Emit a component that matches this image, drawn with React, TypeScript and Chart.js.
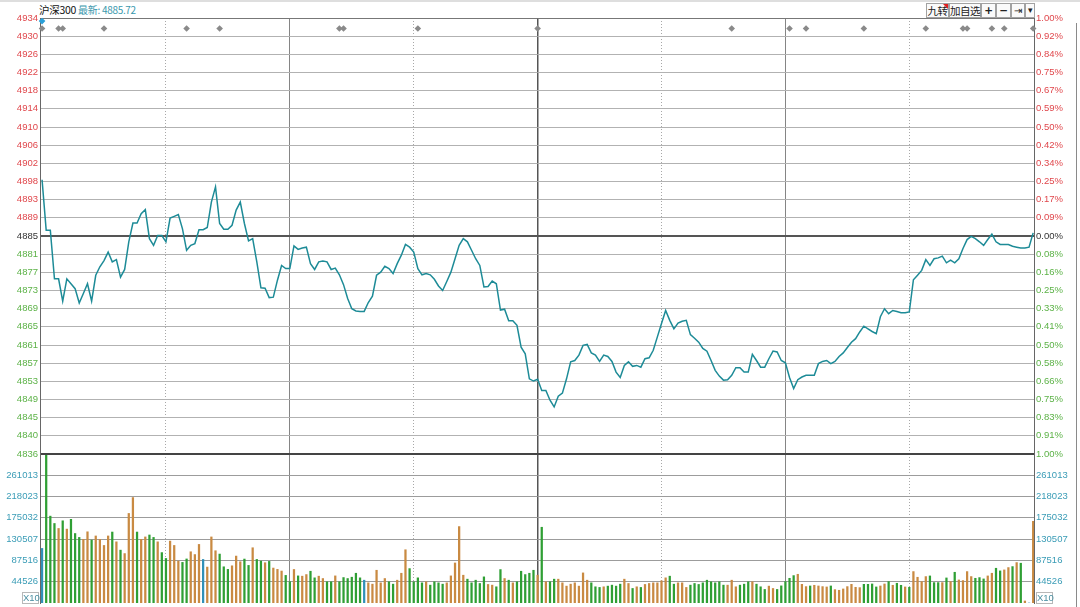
import { useEffect, useRef } from "react";
import { Chart, registerables } from "chart.js";

Chart.register(...registerables);

// previous close = the 0.00% line
const prevClose = 4885.0;
const lastPrice = "4885.72";

// left axis labels, top to bottom
const priceLabels = [
  "4934", "4930", "4926", "4922", "4918", "4914", "4910", "4906", "4902", "4898", "4893", "4889",
  "4885",
  "4881", "4877", "4873", "4869", "4865", "4861", "4857", "4853", "4849", "4845", "4840", "4836",
];
// right axis labels, top to bottom
const pctLabels = [
  "1.00%", "0.92%", "0.84%", "0.75%", "0.67%", "0.59%", "0.50%", "0.42%", "0.34%", "0.25%", "0.17%", "0.09%",
  "0.00%",
  "0.08%", "0.16%", "0.25%", "0.33%", "0.41%", "0.50%", "0.58%", "0.66%", "0.75%", "0.83%", "0.91%", "1.00%",
];
const volumeTicks = [44526, 87516, 130507, 175032, 218023, 261013];

// one value per minute, 241 minutes
const prices = [
  4897.6, 4886.3, 4886.3, 4875.4, 4875.4, 4870.4, 4875.4, 4874.3, 4873.2, 4870.0,
  4872.1, 4874.3, 4870.4, 4876.2, 4878.1, 4879.5, 4881.4, 4879.2, 4879.7, 4875.8,
  4877.5, 4883.7, 4887.9, 4887.9, 4890.0, 4890.9, 4884.4, 4882.9, 4885.1, 4885.1,
  4883.7, 4889.0, 4889.4, 4889.8, 4886.6, 4881.8, 4882.9, 4883.3, 4886.4, 4886.4,
  4886.9, 4892.6, 4896.0, 4887.8, 4886.5, 4886.5, 4887.4, 4890.8, 4892.6, 4887.8,
  4883.9, 4884.4, 4879.2, 4873.4, 4873.3, 4871.2, 4871.3, 4875.1, 4878.4, 4877.7,
  4877.7, 4882.8, 4882.0, 4882.3, 4882.5, 4878.8, 4877.5, 4879.2, 4879.4, 4879.2,
  4877.5, 4877.8, 4876.3, 4874.1, 4871.0, 4868.7, 4868.2, 4868.1, 4868.1, 4870.1,
  4871.5, 4876.2, 4876.9, 4878.2, 4877.7, 4876.6, 4878.8, 4880.7, 4883.1, 4882.5,
  4881.4, 4877.7, 4876.3, 4876.6, 4876.3, 4875.3, 4873.8, 4872.8, 4874.8, 4876.9,
  4879.9, 4882.9, 4884.4, 4883.7, 4881.8, 4879.9, 4878.4, 4873.6, 4873.7, 4874.9,
  4874.3, 4868.4, 4868.6, 4866.0, 4866.0, 4865.0, 4860.1, 4858.6, 4853.0, 4852.5,
  4852.9, 4850.4, 4850.4, 4848.2, 4846.7, 4849.1, 4849.8, 4853.0, 4856.8, 4857.1,
  4858.3, 4860.5, 4860.7, 4858.8, 4858.3, 4856.9, 4858.3, 4858.0, 4856.9, 4854.5,
  4853.3, 4856.0, 4856.8, 4855.8, 4856.0, 4855.6, 4857.5, 4857.7, 4859.4, 4862.4,
  4865.4, 4868.3, 4866.1, 4864.2, 4865.5, 4865.9, 4866.1, 4862.9, 4862.1, 4861.2,
  4859.8, 4859.2, 4857.1, 4854.9, 4853.6, 4852.7, 4852.8, 4853.8, 4855.5, 4855.5,
  4854.5, 4854.5, 4858.5, 4857.1, 4855.6, 4855.6, 4857.5, 4859.2, 4859.0, 4857.1,
  4856.6, 4853.3, 4850.8, 4852.8, 4853.4, 4853.8, 4853.8, 4853.8, 4856.4, 4856.9,
  4857.1, 4856.4, 4856.9, 4858.0, 4858.8, 4860.0, 4861.2, 4862.0, 4863.5, 4864.8,
  4864.2, 4863.6, 4863.1, 4866.9, 4868.7, 4867.6, 4868.3, 4868.1, 4867.8, 4867.8,
  4868.0, 4875.2, 4876.2, 4877.3, 4879.7, 4878.4, 4879.9, 4880.1, 4880.5, 4879.0,
  4879.6, 4879.0, 4879.9, 4882.2, 4884.2, 4884.9, 4884.4, 4883.7, 4882.9, 4884.2,
  4885.4, 4883.7, 4883.1, 4883.1, 4883.1, 4882.7, 4882.5, 4882.3, 4882.3, 4882.5,
  4885.7,
];

const volumes = [
  111500, 320000, 177500, 162500, 152300, 168000, 151000, 171000, 142000, 134000,
  130000, 145500, 128500, 137000, 130000, 117600, 137000, 145000, 125000, 108000,
  101000, 183000, 215500, 145000, 130000, 135000, 139000, 134000, 125000, 103000,
  91000, 126500, 117600, 85700, 83000, 90000, 104700, 99000, 119700, 89000,
  73400, 135000, 106800, 100000, 74000, 68700, 76000, 95900, 84300, 89800,
  76800, 112900, 89000, 85700, 82300, 85000, 71400, 68700, 65300, 56400,
  43500, 68500, 55400, 54800, 58100, 64900, 51400, 54800, 50000, 43300,
  43300, 55400, 43300, 52000, 50000, 52700, 60800, 51400, 46600, 41200,
  38500, 66900, 41200, 50000, 43300, 38500, 46600, 60800, 108800, 70300,
  43300, 51400, 41200, 43300, 36500, 43300, 41200, 38500, 41200, 55400,
  81800, 156200, 56800, 48700, 41200, 46600, 39900, 53400, 37900, 36500,
  33100, 68300, 50000, 46600, 41200, 43300, 64900, 58100, 60800, 66900,
  56800, 154800, 43300, 43300, 48700, 48700, 41200, 34500, 38500, 41200,
  34500, 61500, 46600, 41200, 33100, 31800, 33100, 34500, 36500, 34500,
  38500, 48700, 39900, 29700, 33100, 31800, 37900, 39900, 41200, 41200,
  45300, 51400, 54800, 38500, 41200, 41200, 31800, 36500, 39900, 37900,
  41200, 46600, 43300, 41200, 43300, 36500, 36500, 46600, 33100, 36500,
  38500, 43300, 43300, 38500, 33100, 27700, 34500, 29700, 27700, 35000,
  43700, 50500, 56000, 58700, 38200, 33500, 34800, 36200, 34800, 33500,
  32800, 34800, 27300, 26000, 28700, 33500, 38200, 32100, 31400, 38200,
  38200, 38900, 32800, 34800, 38900, 43700, 36200, 40300, 36200, 32800,
  32100, 64200, 52600, 43700, 54000, 55300, 41700, 41700, 41700, 51200,
  43700, 62800, 47100, 45800, 64200, 54000, 50500, 51900, 49200, 55300,
  60800, 71000, 65600, 67600, 72400, 74400, 82600, 81300, 4100, 0,
  166700,
];

// u = up minute, d = down minute, f = unchanged
const volumeDir = (
  "fdddududdd uuduuuudud uuuduuddud duuudduuuf uuuddduuud " +
  "dudduduuud duduudduud duddddddfu uuuudduuud dddudddduu " +
  "uuuddddduu ddududdddd ududduuuuu uuuddduddd duududuuuu " +
  "uudduuuddd dddddduuud dduddduudd ddduuuduuu uduuuuuuud " +
  "ddduududdu duuuudddud uduuuudddu udduududuf u"
).replace(/ /g, "").split("");

// minutes carrying a signal diamond on the top row
const signalMinutes = [0, 4, 5, 15, 35, 43, 72, 73, 91, 120, 167, 181, 185, 199, 214, 223, 224, 230, 233, 240];

const W = 1080;
const LEFT_W = 40;
const RIGHT_W = 46;
const X_MIN = -0.5;
const X_MAX = 240.2;
const FONT = { family: "Arial, 'Liberation Sans', sans-serif", size: 9.5 };

const RED = "#e0474c";
const GREEN = "#5cb247";
const TEAL = "#3a9cb6";
const barColors: Record<string, string> = { u: "#c98a42", d: "#2f9f34", f: "#3190b8" };

const yMax = prevClose * 1.01;
const yMin = prevClose * 0.99;
const yStep = (yMax - yMin) / 24;

// fix the axis width, let layout padding decide top / bottom
const fixWidth = (w: number) => (scale: any) => {
  scale.width = w;
  scale.paddingTop = 0;
  scale.paddingBottom = 0;
};

// vertical half-hour lines: solid on x, dotted on x2
const timeAxes = () => ({
  x: {
    type: "linear",
    min: X_MIN,
    max: X_MAX,
    offset: false,
    ticks: { display: false },
    border: { display: false },
    grid: {
      offset: false,
      drawTicks: false,
      color: (c: any) => (c.tick && c.tick.value === 120 ? "#555" : "#858585"),
      lineWidth: (c: any) => (c.tick && c.tick.value === 120 ? 1.5 : 1),
    },
    afterBuildTicks: (a: any) => {
      a.ticks = [60, 120, 180].map((v) => ({ value: v }));
    },
  },
  x2: {
    type: "linear",
    position: "bottom",
    min: X_MIN,
    max: X_MAX,
    offset: false,
    ticks: { display: false },
    border: { display: false, dash: [1, 2] },
    grid: { offset: false, drawTicks: false, color: "#a8a8a8", lineWidth: 1 },
    afterBuildTicks: (a: any) => {
      a.ticks = [30, 90, 150, 210].map((v) => ({ value: v }));
    },
  },
});

const priceLabelColor = (row: number) => (row < 12 ? RED : row === 12 ? "#333" : GREEN);

function PriceChart() {
  const ref = useRef<HTMLCanvasElement>(null);

  useEffect(() => {
    if (!ref.current) return;
    const priceTicks = (a: any) => {
      a.ticks = priceLabels.map((_, i) => ({ value: yMin + i * yStep }));
    };
    const chart = new Chart(ref.current, {
      type: "line",
      data: {
        datasets: [
          {
            data: prices.map((v, i) => ({ x: i, y: v })),
            borderColor: "#1d8b97",
            borderWidth: 1.5,
            pointRadius: 0,
            tension: 0,
            fill: false,
          },
          {
            data: signalMinutes.map((k) => ({ x: k, y: yMax - yStep * 0.58 })),
            showLine: false,
            pointStyle: "rectRot",
            pointRadius: 3.3,
            pointBackgroundColor: "#8a8a8a",
            pointBorderWidth: 0,
            clip: false,
          },
          {
            data: [{ x: 0, y: yMax - yStep * 0.17 }],
            showLine: false,
            pointStyle: "rectRot",
            pointRadius: 3.3,
            pointBackgroundColor: "#2a9fd8",
            pointBorderWidth: 0,
            clip: false,
          },
        ],
      },
      options: {
        animation: false,
        responsive: false,
        events: [],
        layout: { padding: { top: 18, bottom: 8, left: 0, right: 0 } },
        plugins: { legend: { display: false }, tooltip: { enabled: false } },
        scales: {
          ...timeAxes(),
          y: {
            position: "left",
            min: yMin,
            max: yMax,
            afterBuildTicks: priceTicks,
            afterFit: fixWidth(LEFT_W),
            border: { display: true, color: "#666", width: 1 },
            grid: {
              drawTicks: false,
              color: (c: any) => (c.index === 12 ? "#555" : c.index === 0 ? "#444" : c.index === 24 ? "#777" : "#b2b2b2"),
              lineWidth: (c: any) => (c.index === 12 || c.index === 0 ? 2 : 1),
            },
            ticks: {
              autoSkip: false,
              padding: 2,
              font: FONT,
              color: (c: any) => priceLabelColor(24 - c.index),
              callback: (_v: any, i: number) => priceLabels[24 - i],
            },
          },
          yR: {
            position: "right",
            min: yMin,
            max: yMax,
            afterBuildTicks: priceTicks,
            afterFit: fixWidth(RIGHT_W),
            border: { display: true, color: "#666", width: 1 },
            grid: { drawOnChartArea: false, drawTicks: false },
            ticks: {
              autoSkip: false,
              padding: 2,
              font: FONT,
              color: (c: any) => priceLabelColor(24 - c.index),
              callback: (_v: any, i: number) => pctLabels[24 - i],
            },
          },
        },
      } as any,
    });
    return () => chart.destroy();
  }, []);

  return (
    <canvas
      ref={ref}
      width={W}
      height={462}
      style={{ position: "absolute", left: 0, top: 0, zIndex: 2, display: "block" }}
    />
  );
}

function VolumeChart() {
  const ref = useRef<HTMLCanvasElement>(null);

  useEffect(() => {
    if (!ref.current) return;
    const volTicks = (a: any) => {
      a.ticks = volumeTicks.map((v) => ({ value: v }));
    };
    const volMax = 304500;
    const chart = new Chart(ref.current, {
      type: "bar",
      data: {
        datasets: [
          {
            data: volumes.map((v, i) => ({ x: i, y: v })),
            backgroundColor: volumeDir.map((d) => barColors[d]),
            barThickness: 1.6,
            borderWidth: 0,
          },
        ],
      },
      options: {
        animation: false,
        responsive: false,
        events: [],
        layout: { padding: { top: 0, bottom: 4, left: 0, right: 0 } },
        plugins: { legend: { display: false }, tooltip: { enabled: false } },
        scales: {
          ...timeAxes(),
          y: {
            position: "left",
            min: 0,
            max: volMax,
            afterBuildTicks: volTicks,
            afterFit: fixWidth(LEFT_W),
            border: { display: true, color: "#666", width: 1 },
            grid: { drawTicks: false, color: "#9c9c9c", lineWidth: 1 },
            ticks: { autoSkip: false, padding: 2, font: FONT, color: TEAL, callback: (v: any) => String(v) },
          },
          yR: {
            position: "right",
            min: 0,
            max: volMax,
            afterBuildTicks: volTicks,
            afterFit: fixWidth(RIGHT_W),
            border: { display: true, color: "#666", width: 1 },
            grid: { drawOnChartArea: false, drawTicks: false },
            ticks: { autoSkip: false, padding: 2, font: FONT, color: TEAL, callback: (v: any) => String(v) },
          },
        },
      } as any,
    });
    return () => chart.destroy();
  }, []);

  return (
    <canvas
      ref={ref}
      width={W}
      height={153}
      style={{ position: "absolute", left: 0, top: 454, zIndex: 1, display: "block" }}
    />
  );
}

const btn = (left: number, width: number): React.CSSProperties => ({
  position: "absolute",
  left,
  top: 3,
  width,
  height: 15,
  boxSizing: "border-box",
  border: "1px solid #a2a2a2",
  background: "#fafafa",
  fontSize: 10.5,
  lineHeight: "13px",
  textAlign: "center",
  color: "#222",
  whiteSpace: "nowrap",
  letterSpacing: -0.5,
});

const x10 = (left: number): React.CSSProperties => ({
  position: "absolute",
  left,
  top: 592,
  width: 17,
  height: 12,
  boxSizing: "border-box",
  border: "1px solid #b8b8b8",
  fontSize: 9.5,
  lineHeight: "10px",
  color: "#4a8fa2",
  textAlign: "center",
  fontFamily: "Arial, 'Liberation Sans', sans-serif",
  background: "#fff",
  zIndex: 3,
});

export default function App() {
  return (
    <div
      style={{
        position: "fixed",
        left: 0,
        top: 0,
        width: W,
        height: 607,
        background: "#fff",
        overflow: "hidden",
        fontFamily: "'Noto Sans CJK SC', Arial, sans-serif",
      }}
    >
      <div style={{ position: "absolute", left: 0, top: 0, width: W, height: 2, background: "#dedede" }} />
      <div
        style={{
          position: "absolute",
          left: 39,
          top: 3,
          fontSize: 10.5,
          lineHeight: "13px",
          color: "#111",
          whiteSpace: "nowrap",
          letterSpacing: -0.3,
        }}
      >
        沪深300 <span style={{ color: "#3a98ad", fontSize: 10 }}>最新: {lastPrice}</span>
      </div>

      <div style={btn(926, 23)}>
        九转
        <div
          style={{
            position: "absolute",
            right: 0,
            top: 0,
            width: 0,
            height: 0,
            borderTop: "5px solid #e02020",
            borderLeft: "5px solid transparent",
          }}
        />
      </div>
      <div style={btn(949, 32)}>加自选</div>
      <div style={{ ...btn(981, 15), fontWeight: "bold", fontFamily: "'DejaVu Sans', sans-serif" }}>+</div>
      <div style={{ ...btn(996, 15), fontWeight: "bold", fontFamily: "'DejaVu Sans', sans-serif" }}>−</div>
      <div style={{ ...btn(1011, 14), fontFamily: "'DejaVu Sans', sans-serif", fontSize: 10 }}>⇥</div>
      <div style={{ ...btn(1025, 10), fontFamily: "'DejaVu Sans', sans-serif", fontSize: 9 }}>▾</div>

      <PriceChart />
      <VolumeChart />

      <div style={x10(22)}>X10</div>
      <div style={x10(1036)}>X10</div>

      <div style={{ position: "absolute", left: 1076, top: 23, width: 1, height: 584, background: "#8a8a8a" }} />
    </div>
  );
}
